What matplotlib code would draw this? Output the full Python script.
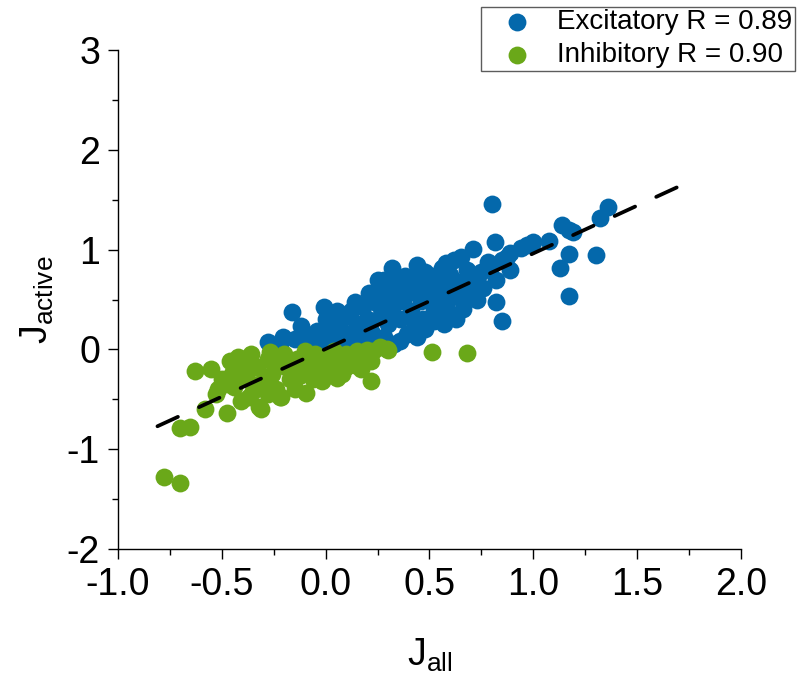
import matplotlib
matplotlib.use("Agg")
import matplotlib.pyplot as plt
import numpy as np

plt.rcParams['font.family'] = ['Liberation Sans', 'DejaVu Sans']
plt.rcParams['mathtext.fontset'] = 'custom'
plt.rcParams['mathtext.rm'] = 'Liberation Sans'
plt.rcParams['mathtext.it'] = 'Liberation Sans'

# ---- data ----
exc_x = [0.80, 1.36, 1.32, 1.14, 1.17, 1.19, 1.30, 1.17, 1.13, 1.17, 1.075, 1.0, 0.97, 0.94, 0.89,
         0.875, 0.89, 0.815, 0.82, 0.85, 0.71, 0.65, 0.73, 0.78, 0.44, 0.32, 0.25, -0.16, -0.28, -0.205,
         -0.12, -0.04, -0.01, 0.055, 0.14, 0.21, 0.28, 0.66, 0.56, 0.51, 0.38, 0.32, 0.43,
         -0.22, -0.15, -0.10, -0.06, -0.02, 0.0, 0.03, 0.05, 0.08, 0.10, 0.12, 0.12, 0.15, 0.17, 0.18,
         0.20, 0.22, 0.22, 0.25, 0.26, 0.28, 0.30, 0.30, 0.32, 0.33, 0.35, 0.36, 0.37, 0.39, 0.40,
         0.41, 0.43, 0.45, 0.46, 0.47, 0.48, 0.50, 0.52, 0.53, 0.55, 0.56, 0.58, 0.60, 0.60, 0.62,
         0.64, 0.66, 0.68, 0.70, 0.72, 0.75, 0.76, 0.80, 0.82, 0.85, 0.58, 0.62, 0.48, 0.40, 0.36,
         0.44, 0.52, 0.57, 0.63,
         0.45, 0.38, 0.50, 0.25, 0.15, 0.60, 0.70, 0.68, 0.55, 0.65, 0.05, 0.00]
exc_y = [1.46, 1.43, 1.32, 1.25, 1.20, 1.18, 0.95, 0.96, 0.82, 0.54, 1.09, 1.08, 1.05, 1.02, 0.97,
         0.93, 0.80, 1.08, 0.47, 0.28, 1.01, 0.93, 0.50, 0.88, 0.85, 0.82, 0.70, 0.37, 0.07, 0.12,
         0.23, 0.18, 0.42, 0.38, 0.47, 0.57, 0.70, 0.47, 0.82, 0.74, 0.74, 0.70, 0.71,
         0.05, 0.10, 0.15, 0.08, 0.05, 0.12, 0.22, 0.08, 0.30, 0.15, 0.05, 0.38, 0.25, 0.10, 0.42,
         0.30, 0.18, 0.05, 0.45, 0.32, 0.12, 0.55, 0.25, 0.40, 0.05, 0.62, 0.30, 0.48, 0.15, 0.58,
         0.38, 0.25, 0.65, 0.48, 0.30, 0.20, 0.55, 0.40, 0.70, 0.30, 0.60, 0.45, 0.75, 0.35, 0.55,
         0.68, 0.40, 0.80, 0.60, 0.70, 0.78, 0.62, 0.85, 0.70, 0.90, 0.87, 0.90, 0.78, 0.70, 0.08,
         0.12, 0.28, 0.25, 0.30,
         0.55, 0.55, 0.65, 0.55, 0.20, 0.62, 0.75, 0.65, 0.50, 0.55, 0.25, 0.30]

inh_x = [-0.78, -0.70, -0.70, -0.655, -0.63, -0.58, -0.55, -0.53, -0.475, -0.46, -0.41, -0.36,
         -0.31, -0.22, -0.095, -0.02, 0.055, 0.14, 0.22, 0.295, -0.27, -0.41, -0.47, 0.51, 0.68,
         0.26, 0.30, 0.23, -0.32, -0.215, 0.0, 0.10, -0.02, -0.13, -0.25,
         -0.50, -0.44, -0.40, -0.38, -0.35, -0.33, -0.30, -0.28, -0.26, -0.24, -0.20, -0.19, -0.17,
         -0.15, -0.14, -0.12, -0.10, -0.08, -0.06, -0.05, -0.03, 0.0, 0.02, 0.04, 0.06, 0.08, 0.10,
         0.12, 0.15, 0.17, 0.18, 0.20, 0.22, -0.45, -0.42, -0.52, -0.37, -0.28]
inh_y = [-1.28, -1.34, -0.79, -0.78, -0.22, -0.60, -0.20, -0.45, -0.64, -0.12, -0.52, -0.05,
         -0.60, -0.48, -0.44, -0.27, -0.29, -0.155, -0.32, 0.0, -0.03, -0.23, -0.35, -0.03, -0.04,
         0.02, -0.01, -0.02, -0.58, -0.48, -0.27, -0.18, -0.32, -0.27, -0.13,
         -0.30, -0.38, -0.15, -0.30, -0.42, -0.18, -0.32, -0.10, -0.25, -0.40, -0.05, -0.18, -0.30,
         -0.40, -0.10, -0.22, -0.02, -0.15, -0.30, -0.05, -0.18, -0.08, -0.20, -0.02, -0.12, -0.25,
         -0.05, -0.10, -0.02, -0.20, -0.08, -0.01, -0.12, -0.25, -0.08, -0.40, -0.48, -0.45]

fit_x = [-0.81, 1.75]
fit_slope = 0.957
fit_intercept = 0.005

exc_label = "Excitatory R = 0.89"
inh_label = "Inhibitory R = 0.90"

blue = '#0468ab'
green = '#6aa819'

fig = plt.figure(figsize=(7.98, 6.84), dpi=100)
ax = fig.add_axes([118/798, 1-549/684, (741-118)/798, (549-50)/684])

ms = 165
ax.scatter(exc_x, exc_y, s=ms, color=blue, linewidths=0, label=exc_label, zorder=2)
ax.scatter(inh_x, inh_y, s=ms, color=green, linewidths=0, label=inh_label, zorder=3)

fx = np.array(fit_x)
ax.plot(fx, fit_slope*fx + fit_intercept, color='black', lw=2.7,
        dashes=(6.0, 6.2), dash_capstyle='round', zorder=4)

ax.set_xlim(-1.0, 2.0)
ax.set_ylim(-2, 3)
ax.set_xticks([-1.0, -0.5, 0.0, 0.5, 1.0, 1.5, 2.0])
ax.set_xticklabels(['-1.0', '-0.5', '0.0', '0.5', '1.0', '1.5', '2.0'])
ax.set_yticks([-2, -1, 0, 1, 2, 3])
ax.set_yticklabels(['-2', '-1', '0', '1', '2', '3'])
ax.set_xticks(np.arange(-0.75, 2.0, 0.5), minor=True)
ax.set_yticks(np.arange(-1.5, 3.0, 1.0), minor=True)

for s in ['top', 'right']:
    ax.spines[s].set_visible(False)
for s in ['left', 'bottom']:
    ax.spines[s].set_linewidth(1.0)
ax.tick_params(which='major', direction='out', length=7, width=1.0, labelsize=27, pad=6)
ax.tick_params(which='minor', direction='out', length=4, width=1.0)

ax.set_xlabel(r'$\mathregular{J_{all}}$', fontsize=27, labelpad=24)
ax.set_ylabel(r'$\mathregular{J_{active}}$', fontsize=27, labelpad=8)

leg = fig.legend(loc='lower left', bbox_to_anchor=(481/798, 1 - 71/684),
                 fontsize=20, frameon=True, fancybox=False, edgecolor='#333333',
                 handlelength=2.4, handletextpad=0.25, borderpad=0.1, labelspacing=0.25,
                 borderaxespad=0, scatterpoints=1)
leg.get_frame().set_linewidth(1.0)

fig.savefig('out.png', dpi=100)
